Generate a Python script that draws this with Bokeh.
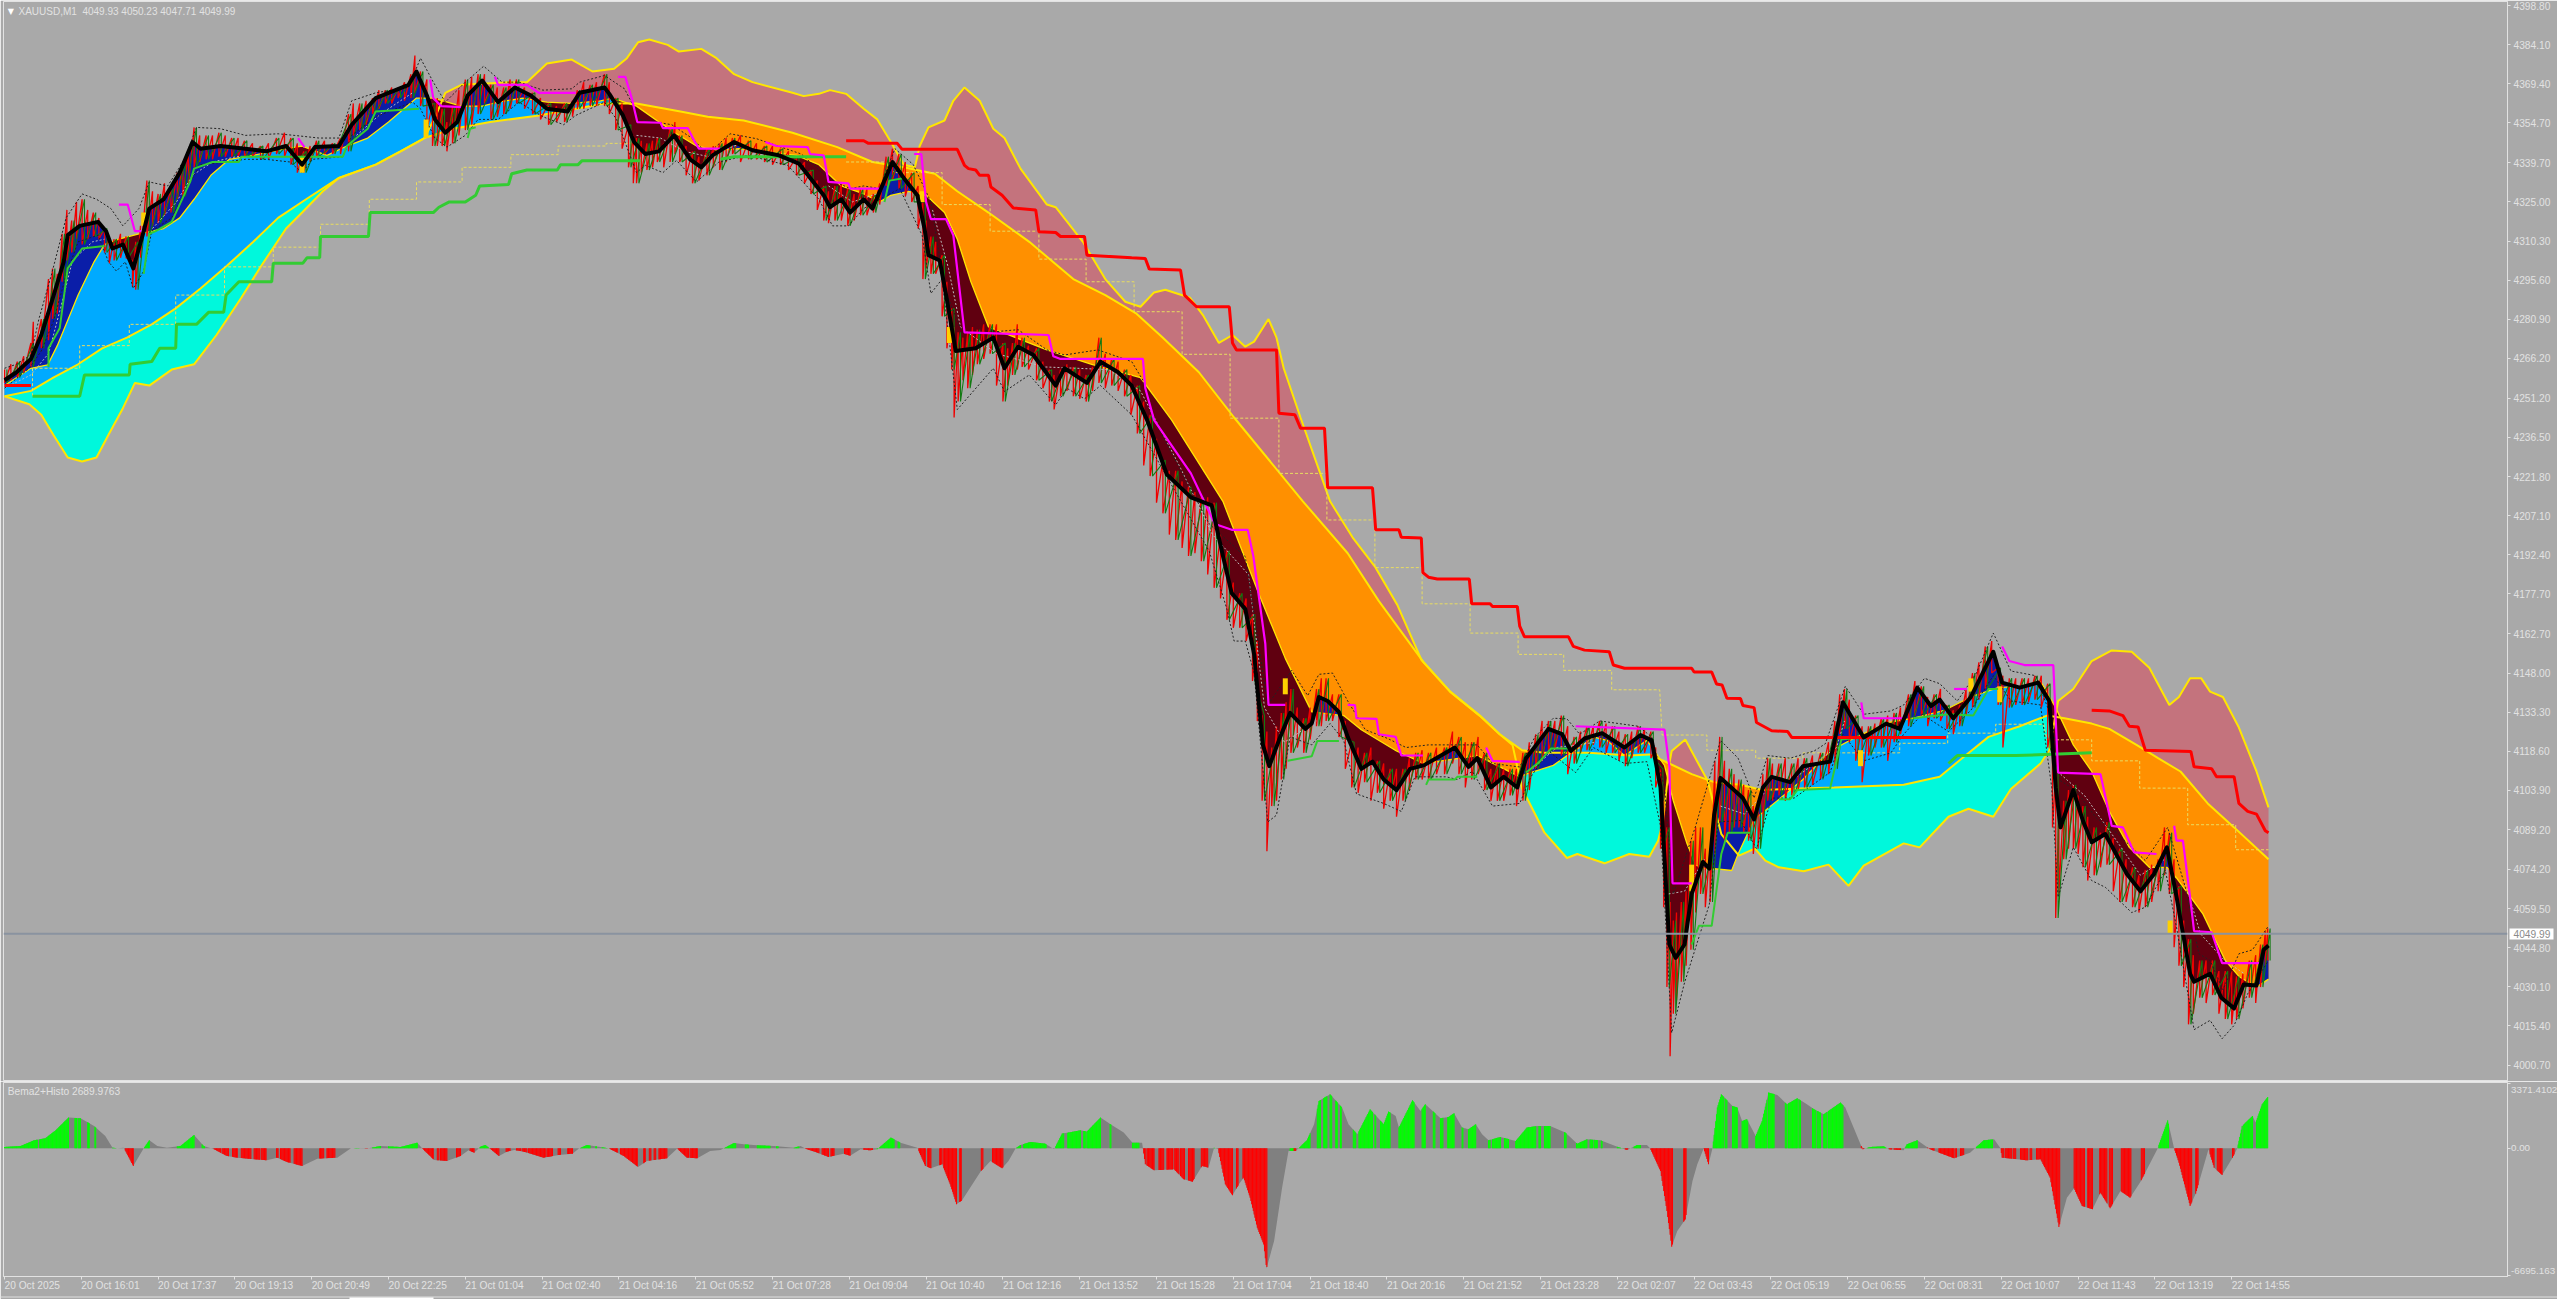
import numpy as np
from bokeh.core.properties import value
from bokeh.embed import file_html
from bokeh.resources import INLINE
from bokeh.layouts import column
from bokeh.models import Range1d, FixedTicker, Label, Span
from bokeh.plotting import figure

TITLE_TEXT = "XAUUSD,M1\u00a0\u00a04049.93 4050.23 4047.71 4049.99"
SUB_TEXT = "Bema2+Histo 2689.9763"
LAST_PRICE = 4049.99
PRICE_LABELS = ["4398.80","4384.10","4369.40","4354.70","4339.70","4325.00","4310.30","4295.60","4280.90","4266.20",
                "4251.20","4236.50","4221.80","4207.10","4192.40","4177.70","4162.70","4148.00","4133.30","4118.60",
                "4103.90","4089.20","4074.20","4059.50","4044.80","4030.10","4015.40","4000.70"]
TIME_LABELS = ["20 Oct 2025","20 Oct 16:01","20 Oct 17:37","20 Oct 19:13","20 Oct 20:49","20 Oct 22:25","21 Oct 01:04",
               "21 Oct 02:40","21 Oct 04:16","21 Oct 05:52","21 Oct 07:28","21 Oct 09:04","21 Oct 10:40","21 Oct 12:16",
               "21 Oct 13:52","21 Oct 15:28","21 Oct 17:04","21 Oct 18:40","21 Oct 20:16","21 Oct 21:52","21 Oct 23:28",
               "22 Oct 02:07","22 Oct 03:43","22 Oct 05:19","22 Oct 06:55","22 Oct 08:31","22 Oct 10:07","22 Oct 11:43",
               "22 Oct 13:19","22 Oct 14:55"]
TIME_TICK_STEP = 96
HIST_TICKS = [3371.41, 0.0, -6695.16]
HIST_TICK_TEXT = ["3371.4102", "0.00", "-6695.163"]

# fast average (thick black)
FAST = [(0,4258),(15,4261),(33,4266),(46,4275),(59,4287.5),(74,4302.5),(79,4312.5),(94,4316),(117,4317.5),(127,4314),
(135,4307.5),(148,4309),(161,4300),(174,4314),(181,4322.5),(199,4326),(219,4336),(235,4347.5),(245,4345),(270,4346),
(301,4345),(327,4344),(352,4346),(372,4339),(388,4345.6),(418,4346),(434,4354),(464,4364),(505,4369),(515,4374),
(528,4365),(538,4356),(551,4351),(566,4355),(579,4365),(597,4370.6),(617,4362.5),(638,4368),(658,4365),(678,4360),
(704,4359),(719,4366),(750,4368),(756,4365.6),(773,4357.5),(787,4347.5),(801,4343),(818,4344),(837,4350),(857,4341),
(871,4338),(885,4342.5),(912,4347.5),(935,4344.4),(968,4342.5),(993,4339.4),(1024,4327.5),(1032,4323),(1046,4326),
(1057,4321),(1074,4326),(1085,4322.5),(1097,4331),(1110,4340),(1124,4334),(1141,4327.5),(1150,4315),(1155,4305),
(1169,4303),(1177,4290),(1189,4269),(1214,4270),(1236,4274),(1250,4262.5),(1267,4270.6),(1286,4267.5),(1314,4256),
(1325,4262.5),(1353,4257),(1370,4265),(1392,4261),(1409,4256),(1429,4242.5),(1453,4222.6),(1483,4214),(1509,4211),
(1523,4192),(1534,4178),(1551,4172),(1562,4155),(1573,4121),(1581,4113),(1593,4122.7),(1607,4133),(1626,4127),
(1634,4129),(1643,4139),(1654,4137.5),(1668,4133.4),(1679,4124),(1696,4112),(1710,4114.7),(1724,4108),(1740,4104),
(1757,4112),(1774,4113.3),(1813,4120),(1830,4112.7),(1841,4116),(1858,4105),(1874,4109),(1891,4105),(1902,4116),
(1930,4127),(1947,4125),(1958,4118.7),(1975,4123.4),(1997,4125.4),(2025,4120),(2045,4124.7),(2059,4122.7),(2070,4105),
(2075,4078.5),(2081,4046),(2089,4041),(2100,4046),(2109,4065),(2123,4077),(2131,4074.5),(2137,4094.6),(2145,4108.6),
(2173,4101),(2187,4093),(2198,4105),(2209,4109),(2232,4107),(2248,4113),(2282,4114.7),(2298,4137),(2324,4123.75),
(2352,4129),(2369,4127),(2391,4142.5),(2408,4135.6),(2419,4138),(2436,4131),(2458,4139),(2486,4156),(2497,4144.4),
(2519,4142.5),(2542,4144.4),(2556,4137.5),(2564,4105),(2570,4090),(2586,4104),(2598,4092.5),(2609,4084.4),(2626,4087.5),
(2653,4072.5),(2670,4066),(2687,4072.5),(2703,4082.5),(2715,4064),(2732,4035),(2737,4032),(2757,4035),(2771,4026),
(2787,4022),(2799,4031),(2815,4030.6),(2824,4044),(2830,4045.6)]

# middle average: edge between the dark fills and the light fills
MID = [(0,4256),(33,4262.5),(54,4263.75),(66,4271),(92,4290),(112,4302.5),(125,4309),(143,4311),(168,4313),(199,4315),
(219,4319),(237,4326),(258,4335),(281,4341),(311,4342.5),(352,4345),(372,4346),(403,4342.5),(428,4346),(454,4349),
(480,4355),(515,4364),(536,4364),(571,4361),(597,4361),(617,4362.5),(648,4364),(678,4362.5),(709,4362),(745,4363),
(760,4364),(790,4361),(818,4355),(840,4350.6),(865,4346),(893,4344.4),(918,4345),(990,4342.5),(1018,4339),(1046,4331),
(1074,4328),(1094,4325),(1108,4327.5),(1130,4329),(1152,4327.5),(1175,4321),(1191,4311),(1208,4295),(1230,4278),
(1264,4274),(1303,4269.4),(1359,4264),(1420,4259),(1459,4243),(1523,4212.5),(1568,4177.7),(1601,4153.5),(1634,4133.4),
(1674,4132),(1696,4126.7),(1740,4118.7),(1774,4114),(1841,4117),(1894,4109),(1902,4110),(1936,4113.3),(1958,4118),
(1969,4120),(1986,4124),(2003,4122.7),(2025,4117),(2053,4122.7),(2075,4113.3),(2086,4100),(2103,4084),(2114,4075.8),
(2126,4074.5),(2137,4074.5),(2159,4073.8),(2167,4080),(2187,4093),(2220,4101),(2248,4108),(2282,4118.7),(2315,4124),
(2354,4129.4),(2385,4131),(2425,4134),(2458,4139),(2492,4142.5),(2519,4143),(2545,4145),(2564,4135),(2586,4121),
(2609,4111),(2631,4096),(2656,4082.5),(2681,4075),(2703,4075),(2715,4071),(2748,4057.5),(2776,4040),(2793,4034),
(2815,4030),(2830,4033)]

# slow average (central yellow curve)
SLOW = [(0,4252),(33,4254),(61,4259),(92,4264),(122,4270),(153,4274),(184,4279),(214,4285),(245,4292.5),(278,4301),
(311,4310),(342,4319),(377,4326),(418,4334),(464,4339),(495,4344),(525,4349),(561,4352.5),(607,4355),(668,4357.5),
(724,4360.6),(750,4362),(790,4362),(845,4359),(879,4357),(924,4355.6),(985,4351),(1041,4345.6),(1085,4340),(1124,4338),
(1163,4335.6),(1191,4329),(1230,4321),(1281,4310),(1336,4296),(1376,4290),(1415,4283),(1448,4274),(1493,4261),(1537,4244),
(1623,4212.5),(1679,4193),(1718,4175),(1774,4152),(1807,4141),(1844,4132),(1869,4125),(1897,4119),(1925,4118),(1980,4118),
(2031,4117),(2056,4117.4),(2081,4114),(2109,4110),(2137,4107),(2170,4106),(2198,4104),(2243,4104.6),(2287,4105),(2374,4106),
(2419,4109),(2447,4116),(2480,4124),(2519,4128),(2553,4132),(2575,4131),(2609,4129),(2631,4127),(2665,4121),(2692,4116),
(2720,4111),(2754,4099),(2787,4090),(2830,4078)]

# outer band: above the slow curve it bounds the rose fill, below it the cyan fill
BAND = [(0,4252),(31,4249),(46,4245),(61,4237.5),(79,4229),(97,4227.5),(115,4229),(130,4237.5),(148,4247.5),(163,4257),
(181,4256),(209,4262),(237,4264),(265,4275),(296,4289),(321,4301),(352,4315),(372,4321),(398,4329),(418,4334),(464,4339),
(495,4344),(525,4349),(540,4358),(551,4366),(571,4369),(632,4370),(653,4370),(678,4377),(709,4378.5),(735,4374),(762,4375),
(778,4379),(792,4385),(806,4386),(829,4384),(843,4381.5),(871,4382.5),(890,4379),(912,4373),(935,4370),(985,4366),
(999,4364.75),(1018,4365.6),(1032,4367),(1052,4365.6),(1074,4360),(1091,4356),(1108,4347.5),(1124,4339),(1138,4338),
(1144,4346),(1155,4353),(1175,4355.6),(1186,4363),(1200,4368),(1219,4363),(1236,4352.5),(1250,4349),(1270,4337.5),(1303,4324),
(1314,4323),(1348,4310),(1376,4296),(1401,4287.5),(1420,4285.6),(1437,4291),(1451,4292),(1482,4289),(1498,4282.5),(1518,4272),
(1535,4275),(1551,4270.6),(1562,4272.5),(1580,4281),(1590,4274),(1599,4262.5),(1620,4244),(1657,4212.5),(1685,4199),(1713,4188),
(1741,4173.6),(1771,4153),(1807,4141),(1844,4132),(1869,4125),(1885,4121),(1897,4104.6),(1925,4088),(1953,4078.5),(1966,4080),
(2000,4076.5),(2031,4080),(2056,4079),(2067,4085),(2073,4092),(2081,4114),(2084,4118.7),(2101,4123),(2129,4107.5),(2146,4087.5),
(2168,4079.4),(2188,4082),(2201,4077.5),(2218,4075),(2249,4073.5),(2280,4076),(2305,4068),(2324,4075.6),(2374,4084),(2394,4082.5),
(2430,4094),(2455,4097),(2486,4094),(2508,4104.4),(2545,4114),(2556,4119),(2567,4137.5),(2586,4142),(2609,4152.5),(2634,4156.5),
(2659,4156),(2681,4150),(2706,4136),(2718,4139),(2732,4146),(2746,4146),(2757,4141),(2773,4139),(2793,4127.5),(2815,4111),(2830,4097.5)]

# falling trailing stop, red thick
RED_STEPS = [
[(0,4256),(33,4256)],
[(1052,4348),(1074,4348),(1080,4347),(1116,4347),(1122,4344.75),(1191,4344.75),(1200,4338.75),(1205,4337.5),(1214,4337),(1219,4335),
(1230,4335),(1233,4330.6),(1247,4327.5),(1261,4322.75),(1289,4322),(1293,4313.75),(1314,4313.5),(1320,4312),(1350,4312),(1353,4305),
(1409,4304),(1426,4303.75),(1431,4299.75),(1470,4299.4),(1475,4290),(1490,4285.6),(1531,4285.6),(1535,4272),(1540,4269.4),(1590,4269.4),
(1593,4245.6),(1613,4245),(1620,4240),(1650,4240),(1654,4217.6),(1710,4217.6),(1714,4201.8),(1743,4201.8),(1746,4199),(1771,4198.7),
(1773,4185.7),(1780,4184),(1791,4183.3),(1831,4183.3),(1834,4174),(1857,4174),(1860,4173),(1891,4173),(1894,4165.6),(1900,4161.6),
(1955,4161.6),(1961,4158),(1975,4156.6),(2006,4156),(2011,4151),(2025,4149.8),(2109,4149.8),(2112,4148.4),(2134,4148.4),(2140,4143.9),
(2147,4143.5),(2153,4138.5),(2170,4138.4),(2173,4135.8),(2187,4135),(2190,4129.4),(2209,4126.3),(2229,4126),(2234,4123.8),(2427,4123.75)],
[(2609,4134),(2631,4133.75),(2648,4132),(2656,4128),(2667,4127.75),(2676,4119),(2733,4118.5),(2737,4112.75),(2759,4112),(2765,4109),
(2787,4109),(2793,4099),(2804,4096),(2815,4095),(2826,4088.75),(2830,4088)]]

# pale yellow dashed staircase
DASH_STEPS = [
[(35,4252),(35,4262.5),(94,4262.5),(94,4271),(156,4271),(156,4279),(214,4279),(214,4290),(275,4290),(275,4300.6),(336,4300.6),
(336,4308),(395,4308),(395,4316.6),(456,4316.6),(456,4326),(515,4326),(515,4332.5),(572,4332.5),(572,4338),(633,4338),(633,4342.75),
(692,4342.75),(692,4346),(752,4346),(752,4347),(784,4347)],
[(1052,4340),(1102,4340),(1112,4336),(1172,4336),(1172,4324),(1232,4324),(1232,4314),(1293,4314),(1293,4303.5),(1352,4303.5),(1352,4295),
(1412,4295),(1412,4283.75),(1472,4283.75),(1472,4267.75),(1532,4267.75),(1532,4243.75),(1593,4243.75),(1593,4223),(1653,4223),(1653,4205.5),
(1713,4205.5),(1713,4187.6),(1772,4187.6),(1772,4174),(1832,4174),(1832,4163),(1892,4163),(1892,4155),(1949,4155),(1949,4149),(2009,4149),
(2009,4141.7),(2069,4141.7),(2072,4124.7),(2128,4124.7),(2128,4119),(2189,4119),(2189,4116),(2248,4116),(2248,4118),(2369,4118),(2369,4121.6),
(2429,4121.6),(2429,4125.4),(2489,4125.4),(2489,4128.75),(2549,4128.75),(2553,4122.9),(2609,4122.9),(2609,4115),(2669,4115),(2669,4104.75),
(2729,4104.75),(2729,4091),(2789,4091),(2789,4081.6),(2830,4081.6)]]

# rising trailing stop, green thick
GREEN_THICK = [
[(35,4252),(94,4252),(100,4260),(156,4260),(157,4264),(184,4265),(194,4270),(214,4270),(215,4279),(240,4279),(255,4283.5),(274,4283.5),
(277,4290),(293,4295),(334,4295),(336,4302),(373,4302),(378,4304),(394,4304),(395,4312),(455,4312),(457,4321),(536,4321),(543,4323),
(556,4325),(576,4325),(589,4327.5),(594,4331),(630,4331.5),(634,4335.6),(653,4337),(691,4337),(695,4339),(717,4339),(722,4340.5),(795,4340.5)],
[(895,4341),(912,4342),(1052,4342)],
[(2430,4114),(2441,4117),(2514,4117),(2609,4118)]]

# rising stop, thin green
GREEN_THIN = [
[(55,4263),(55,4270),(69,4277.5),(79,4300),(97,4307.5),(125,4308.4)],
[(174,4298),(181,4313),(189,4314),(209,4317.5),(232,4332.5),(237,4337.5),(260,4340),(293,4340),(296,4342),(352,4342),(423,4342),(428,4346),
(454,4352.5),(464,4359),(518,4360)],
[(579,4349),(582,4352.5),(589,4353)],
[(1100,4325),(1106,4333),(1125,4334)],
[(1604,4115),(1634,4116.7),(1641,4122.5),(1668,4122.5)],
[(1777,4106),(1780,4108),(1813,4108),(1816,4109),(1841,4109)],
[(1902,4110.6),(1919,4114.7),(1933,4119.6),(1961,4119.6)],
[(2109,4046),(2118,4053),(2134,4053),(2146,4080),(2154,4088),(2182,4088)],
[(2218,4100.6),(2232,4100.6),(2241,4104),(2282,4104.6),(2296,4123),(2324,4124)],
[(2386,4131),(2430,4132.5),(2461,4132),(2480,4142),(2492,4142)]]

# magenta stop
MAGENTA = [
[(143,4324),(154,4324),(163,4314),(171,4314)],
[(367,4349),(375,4345.6)],
[(532,4371),(536,4364),(546,4361),(571,4360.6)],
[(613,4372),(617,4369),(653,4369),(668,4366),(714,4366)],
[(767,4372),(776,4372),(784,4364),(791,4355),(820,4354.75),(823,4352.75),(854,4352.75),(863,4347.5),(868,4345),(895,4345)],
[(951,4347.5),(965,4346),(1004,4345.6),(1007,4343),(1024,4342.5),(1030,4332.5),(1055,4332),(1057,4330),(1094,4330)],
[(1137,4343),(1146,4343),(1152,4325),(1158,4318.5),(1177,4318.5),(1186,4312.5),(1200,4276),(1305,4275),(1311,4267),(1320,4266),(1423,4266),
(1426,4255),(1437,4243),(1483,4223),(1513,4204),(1534,4201.8),(1554,4201.8),(1561,4192),(1576,4159),(1580,4136),(1601,4136)],
[(1679,4136),(1688,4135.9),(1690,4131),(1715,4130.8),(1718,4125),(1739,4124),(1746,4117),(1773,4117)],
[(1852,4120),(1860,4115),(1894,4114.6)],
[(1964,4128),(2075,4126.7),(2081,4113),(2085,4069),(2109,4069)],
[(2321,4137),(2324,4131),(2374,4131)],
[(2437,4142),(2453,4142)],
[(2497,4158),(2506,4152.5),(2525,4151),(2561,4151),(2567,4110.6),(2620,4110),(2634,4090.6),(2648,4090),(2662,4080.6),(2690,4080)],
[(2712,4090.6),(2715,4085),(2723,4085),(2732,4063.75),(2737,4051),(2759,4050.6),(2772,4039),(2821,4039)]]

# dotted envelopes around the price
ENV_UP = [(0,4262.5),(15,4264),(33,4267.5),(43,4281),(59,4298),(77,4319),(97,4328),(115,4326),(133,4322.5),(148,4316),(168,4322.5),(181,4332.5),
(204,4331),(225,4341),(240,4353),(270,4352.5),(301,4350),(342,4350.6),(362,4350),(393,4349),(418,4349),(434,4363),(464,4366),(505,4368),(520,4379),
(536,4370),(551,4362.5),(576,4370),(599,4376),(622,4370),(643,4370),(673,4367),(709,4367.5),(719,4370),(750,4372.5),(775,4367.5),(795,4356),(834,4354),
(859,4349),(879,4343),(907,4350.6),(940,4348.75),(996,4343),(1030,4333.75),(1057,4330),(1074,4331),(1094,4330),(1113,4345),(1136,4339),(1158,4325),
(1175,4292.5),(1197,4276),(1230,4276),(1267,4277),(1303,4269.4),(1325,4267.5),(1367,4269.4),(1409,4265),(1423,4258),(1437,4243),(1506,4204),(1551,4191.7),
(1579,4136),(1609,4149),(1629,4139.5),(1643,4147.5),(1660,4148),(1679,4137.5),(1701,4126.7),(1729,4123.4),(1752,4120),(1780,4121),(1810,4121),(1841,4121),
(1860,4114),(1894,4112.7),(1913,4124),(1936,4131),(1953,4130.8),(1969,4125),(1994,4130),(2042,4128),(2059,4124),(2075,4105),(2086,4065),(2114,4090.6),
(2145,4122.7),(2167,4116),(2187,4101),(2204,4117),(2232,4116),(2262,4118.7),(2276,4121.4),(2301,4143),(2324,4132.5),(2358,4133.75),(2374,4136),(2400,4146),
(2419,4144),(2441,4137.5),(2464,4147.5),(2486,4163),(2508,4148.75),(2539,4147),(2559,4131),(2570,4107.5),(2589,4104),(2614,4093.75),(2642,4087.5),(2676,4077.5),
(2704,4090),(2726,4067.5),(2743,4042.5),(2757,4040),(2773,4029),(2793,4042.5),(2810,4044),(2830,4053)]
ENV_DN = [(0,4255),(31,4262.5),(46,4269),(61,4280),(77,4297.5),(92,4310),(117,4312.5),(130,4302.5),(140,4299),(151,4302.5),(161,4292.5),(174,4299),(184,4314),
(209,4319),(232,4332.5),(245,4339),(276,4340),(301,4341),(327,4341),(357,4340),(372,4336),(385,4341),(423,4342),(434,4350),(464,4357),(510,4362.5),(520,4360),
(538,4349),(553,4345.6),(576,4350),(592,4356),(617,4356),(643,4362.5),(673,4357),(699,4354),(714,4357.5),(750,4362.5),(765,4356),(790,4336),(801,4338.75),(823,4336),
(840,4340.6),(865,4332.5),(893,4340),(929,4342.5),(979,4338.75),(1018,4326),(1035,4316),(1055,4316),(1074,4322.5),(1094,4326),(1119,4330),(1147,4312.5),(1158,4290.6),
(1172,4296),(1191,4247),(1236,4262.5),(1250,4253.75),(1281,4260),(1314,4248.75),(1328,4255),(1350,4251),(1370,4256),(1409,4245),(1506,4193.7),(1528,4172),(1537,4160),
(1551,4160),(1562,4148),(1579,4092),(1590,4094.6),(1607,4124),(1634,4121),(1657,4129),(1674,4122.7),(1690,4102.6),(1724,4099),(1746,4096),(1763,4109),(1802,4109),(1816,4108),
(1835,4111),(1860,4098),(1894,4099),(1908,4109),(1930,4118.7),(1964,4110.6),(1986,4120),(2025,4114),(2053,4114.7),(2070,4090.6),(2084,4012.8),(2100,4031.6),(2131,4061),(2142,4092),
(2170,4092.6),(2190,4082),(2209,4101),(2237,4101),(2282,4110.7),(2298,4125),(2324,4115),(2358,4118),(2374,4125),(2397,4132.5),(2430,4126),(2458,4134),(2486,4147),(2508,4137.5),
(2545,4136),(2559,4105),(2567,4063.75),(2586,4082.5),(2609,4070),(2626,4067.5),(2659,4058),(2676,4060),(2701,4074),(2715,4052.5),(2737,4014),(2757,4017.5),(2772,4010.6),(2787,4015.6),
(2804,4027.5),(2830,4040)]

# light dashed line inside the dark fills
INNER = [
[(0,4255),(33,4260),(55,4268),(70,4285),(85,4303),(110,4310),(125,4311)],
[(185,4315),(215,4325),(235,4335),(260,4340),(290,4342),(330,4342)],
[(440,4350),(470,4358),(510,4366)],
[(790,4350),(820,4349),(850,4344),(880,4342),(920,4347)],
[(1030,4331),(1060,4325),(1090,4328)],
[(1160,4322),(1180,4300),(1195,4278),(1240,4268),(1300,4263),(1380,4262),(1420,4254),(1470,4225),(1510,4200),(1555,4185),(1575,4135),(1600,4122),(1640,4130)],
[(1910,4112),(1940,4120),(1990,4122)],
[(2080,4065),(2100,4066),(2125,4078)],
[(2145,4098),(2175,4095),(2200,4103)],
[(2240,4109),(2290,4120),(2300,4130)],
[(2570,4110),(2600,4102),(2640,4085),(2670,4072),(2700,4078)],
[(2725,4070),(2745,4050),(2775,4040),(2800,4035)]]

# short gold strokes: bar, high, low
GOLD = [(174,4321,4316),(372,4342,4336),(527,4356,4349),(1147,4329,4325),(1181,4278,4272),(1601,4146,4140),(2109,4076,4066),(2320,4119,4113),(2458,4146,4141),(2494,4143,4137),(2707,4055,4050)]

# candle extremes: bar, high, low
WICKS = [(0,4262,4257),(8,4264,4258),(16,4265,4259),(24,4267,4261),(33,4272,4263),(36,4280,4267),(46,4281,4270),(55,4296,4273),(60,4300,4281),(66,4298,4283),(72,4313,4295),
(78,4322,4303),(84,4318,4306),(90,4325,4311),(97,4326,4309),(104,4322,4311),(111,4321,4312),(118,4319,4311),(125,4315,4306),(131,4312,4302),(137,4311,4303),(145,4313,4304),
(152,4312,4304),(160,4303,4293),(164,4310,4292),(170,4316,4304),(178,4333,4312),(185,4329,4316),(192,4328,4317),(200,4332,4320),(208,4330,4321),(216,4336,4326),(223,4340,4327),
(230,4344,4332),(237,4353,4338),(244,4350,4340),(252,4350,4341),(260,4350,4341),(268,4351,4342),(276,4350,4342),(284,4349,4342),(292,4349,4342),(300,4348,4342),(310,4347,4342),
(320,4346,4341),(330,4347,4341),(340,4349,4343),(350,4351,4342),(358,4349,4339),(366,4347,4336),(374,4344,4336),(382,4346,4340),(390,4348,4342),(400,4348,4343),(410,4347,4343),
(420,4349,4343),(430,4358,4344),(436,4362,4350),(444,4362,4352),(452,4363,4354),(460,4364,4358),(468,4367,4360),(476,4367,4362),(484,4368,4362),(492,4368,4364),(500,4370,4363),
(508,4373,4364),(513,4380,4366),(520,4374,4361),(528,4371,4352),(535,4362,4346),(541,4364,4346),(547,4360,4346),(553,4355,4344),(560,4361,4347),(568,4367,4350),(576,4371,4352),
(584,4372,4354),(592,4373,4358),(600,4373,4362),(608,4369,4356),(616,4368,4357),(624,4368,4358),(632,4371,4360),(640,4371,4362),(650,4368,4360),(660,4366,4358),(670,4364,4356),
(680,4362,4354),(690,4361,4355),(700,4362,4355),(710,4363,4357),(716,4367,4360),(724,4370,4360),(732,4369,4361),(740,4370,4361),(750,4373,4361),(756,4370,4358),(764,4364,4352),
(772,4362,4345),(780,4354,4338),(786,4350,4332),(790,4349,4332),(796,4348,4336),(803,4347,4337),(810,4348,4338),(816,4349,4340),(824,4347,4338),(832,4353,4340),(838,4355,4343),
(844,4350,4340),(852,4346,4335),(860,4344,4332),(868,4342,4333),(878,4345,4335),(886,4346,4338),(894,4347,4337),(902,4349,4340),(910,4349,4343),(920,4350,4340),(930,4348,4341),
(940,4347,4341),(950,4346,4340),(960,4346,4339),(970,4345,4339),(980,4344,4337),(990,4342,4335),(1000,4340,4332),(1008,4337,4328),(1016,4333,4322),(1024,4331,4318),(1030,4329,4317),
(1038,4331,4318),(1046,4332,4318),(1054,4330,4316),(1062,4328,4318),(1070,4330,4320),(1078,4330,4320),(1086,4328,4321),(1094,4332,4324),(1102,4342,4331),(1110,4345,4333),(1118,4343,4330),
(1126,4340,4327),(1134,4336,4325),(1142,4331,4315),(1148,4325,4296),(1152,4318,4300),(1158,4312,4298),(1164,4310,4298),(1172,4305,4282),(1178,4295,4270),(1184,4285,4262),(1187,4278,4244),
(1192,4276,4250),(1198,4274,4258),(1204,4276,4255),(1210,4278,4260),(1216,4277,4264),(1224,4279,4266),(1232,4279,4268),(1240,4279,4256),(1248,4272,4250),(1254,4270,4256),(1260,4272,4260),
(1266,4279,4262),(1272,4274,4263),(1280,4271,4262),(1290,4270,4258),(1298,4265,4255),(1306,4262,4250),(1312,4260,4247),(1320,4262,4252),(1328,4264,4254),(1336,4263,4252),(1344,4262,4251),
(1352,4260,4250),(1360,4263,4254),(1368,4274,4257),(1376,4268,4255),(1384,4266,4256),(1392,4265,4254),(1400,4262,4252),(1408,4260,4245),(1416,4256,4238),(1424,4250,4226),(1432,4245,4222),
(1440,4236,4212),(1448,4228,4208),(1456,4224,4200),(1464,4224,4198),(1472,4220,4195),(1480,4218,4192),(1488,4216,4193),(1496,4214,4190),(1504,4214,4185),(1512,4212,4180),(1520,4200,4176),
(1528,4194,4168),(1536,4182,4165),(1544,4178,4165),(1552,4176,4160),(1560,4170,4145),(1566,4160,4130),(1572,4132,4100),(1578,4126,4081),(1584,4120,4098),(1590,4128,4100),(1596,4133,4108),
(1602,4137,4112),(1608,4142,4118),(1616,4135,4120),(1624,4131,4118),(1632,4135,4123),(1640,4142,4128),(1646,4146,4128),(1652,4146,4130),(1660,4140,4130),(1668,4140,4124),(1676,4130,4112),
(1684,4122,4105),(1692,4120,4103),(1700,4118,4107),(1708,4120,4100),(1716,4115,4103),(1724,4114,4097),(1732,4112,4100),(1740,4112,4094),(1748,4112,4100),(1756,4116,4104),(1764,4118,4108),
(1772,4119,4108),(1780,4118,4108),(1790,4120,4110),(1800,4120,4110),(1810,4126,4114),(1818,4124,4110),(1826,4122,4105),(1834,4122,4108),(1842,4124,4110),(1850,4118,4104),(1858,4112,4100),
(1866,4114,4100),(1874,4112,4100),(1882,4112,4102),(1890,4112,4098),(1898,4118,4100),(1906,4122,4104),(1914,4125,4112),(1922,4130,4115),(1930,4130,4118),(1938,4130,4119),(1946,4132,4117),
(1954,4128,4110),(1962,4124,4114),(1970,4126,4118),(1978,4128,4119),(1986,4128,4121),(1994,4130,4120),(2002,4129,4118),(2010,4128,4118),(2018,4126,4115),(2026,4125,4113),(2034,4126,4116),
(2042,4128,4118),(2050,4127,4118),(2058,4126,4116),(2064,4120,4105),(2070,4112,4082),(2074,4100,4060),(2078,4090,4030),(2082,4062,4004),(2086,4055,4020),(2090,4058,4025),(2096,4062,4032),
(2102,4066,4038),(2108,4085,4044),(2114,4090,4058),(2120,4090,4065),(2126,4082,4060),(2132,4082,4062),(2138,4115,4080),(2144,4124,4092),(2150,4115,4085),(2156,4112,4088),(2162,4110,4090),
(2168,4108,4090),(2174,4106,4088),(2180,4104,4085),(2186,4098,4080),(2192,4100,4082),(2198,4110,4090),(2204,4116,4100),(2210,4114,4100),(2218,4114,4102),(2226,4116,4100),(2234,4114,4102),
(2242,4116,4104),(2250,4116,4105),(2260,4117,4106),(2270,4118,4108),(2280,4122,4110),(2288,4130,4112),(2294,4140,4125),(2300,4142,4127),(2306,4138,4122),(2314,4132,4115),(2322,4128,4107),
(2330,4128,4117),(2338,4129,4120),(2346,4131,4120),(2354,4132,4115),(2362,4133,4122),(2370,4135,4125),(2380,4140,4128),(2388,4145,4132),(2396,4143,4132),(2404,4139,4128),(2412,4140,4131),
(2420,4142,4130),(2428,4136,4127),(2436,4134,4125),(2444,4136,4128),(2452,4142,4132),(2460,4148,4135),(2468,4152,4138),(2476,4158,4142),(2484,4160,4148),(2492,4150,4136),(2498,4147,4120),
(2506,4146,4135),(2514,4146,4136),(2522,4146,4136),(2530,4146,4137),(2538,4147,4138),(2546,4147,4135),(2554,4144,4120),(2560,4130,4090),(2564,4110,4056),(2568,4096,4065),(2574,4100,4078),
(2580,4104,4082),(2586,4106,4082),(2592,4102,4080),(2598,4098,4075),(2604,4094,4070),(2612,4090,4072),(2620,4088,4075),(2628,4092,4076),(2636,4086,4066),(2644,4082,4062),(2652,4078,4062),
(2660,4075,4060),(2668,4072,4058),(2676,4074,4060),(2684,4076,4062),(2692,4078,4066),(2700,4090,4072),(2706,4088,4065),(2712,4078,4045),(2718,4068,4038),(2724,4055,4030),(2730,4048,4016),
(2736,4042,4020),(2744,4040,4026),(2752,4040,4024),(2760,4040,4027),(2768,4036,4020),(2776,4036,4018),(2784,4036,4016),(2790,4034,4018),(2798,4035,4022),(2806,4040,4026),(2814,4042,4024),
(2820,4046,4030),(2826,4051,4038),(2829,4052,4040)]

# histogram envelope in the lower pane
HIST = [(0,70),(20,122),(37,420),(51,525),(64,945),(80,1610),(95,1575),(112,1172),(126,647),(135,35),(141,0),(149,35),(161,-927),(174,0),(181,420),(191,122),(203,35),(220,122),(237,700),
(249,122),(262,-52),(278,-402),(291,-490),(312,-577),(328,-630),(341,-490),(353,-717),(372,-927),(391,-542),(416,-490),(433,0),(453,-17),(470,122),(495,70),(516,297),(522,0),(537,-612),
(553,-665),(570,-402),(580,-105),(587,-227),(595,87),(601,175),(607.5,-35),(618,-402),(628,-175),(637,-87),(649,-175),(674,-490),(693,-350),(710,-280),(718,-17),(728,175),(745,70),(755,0),
(774,-402),(792,-980),(803,-665),(828,-525),(841,-17),(853,-490),(866,-525),(882,-140),(895,-87),(912,280),(924,210),(941,157),(962,122),(987,35),(995,122),(1001,-17),(1016,-227),(1030,-455),
(1049,-280),(1057,-385),(1070,-52),(1082,-105),(1091,-52),(1108,560),(1120,297),(1141,35),(1151,-927),(1158,-1050),(1172,-840),(1182,-1890),(1190,-2940),(1197,-2730),(1220,-1225),(1232.5,-665),
(1247,-1050),(1255,-665),(1264,0),(1270,175),(1282.5,332),(1301,245),(1312,-52),(1322,770),(1330,822),(1345,945),(1353,875),(1370,1610),(1382.5,1260),(1399,822),(1410,297),(1422,297),(1426,-840),
(1437,-1155),(1462,-1102),(1474,-1627),(1485,-1750),(1497,-927),(1505,-1015),(1512,35),(1517,-52),(1526,-1890),(1535,-2467),(1543,-1890),(1549,-1540),(1557,-2590),(1566,-4165),(1574,-5040),
(1577.5,-6300),(1587,-4865),(1597,-2065),(1605,-140),(1614,-140),(1628,420),(1637,1260),(1643,2485),(1657,2835),(1672,2135),(1680,1260),(1691,735),(1707,2047),(1724,1260),(1730,1925),(1739,1697),
(1743,1085),(1760,2520),(1770,1960),(1776,2310),(1795,1575),(1805,1645),(1812,1837),(1822,1085),(1830,997),(1839,1260),(1847,735),(1855,420),(1870,595),(1889,385),(1903,1085),(1916,1172),(1932,1172),
(1951,822),(1966,245),(1978,472),(1995,420),(2016,87),(2028,-87),(2041,175),(2053,175),(2057,0),(2070,-1190),(2078,-3290),(2084,-5162),(2091,-4340),(2101,-3727),(2110,-1715),(2116,-840),(2124,-17),
(2130,-840),(2135,0),(2141,2135),(2146,2835),(2160,2222),(2166,2135),(2172,1435),(2178,1522),(2189,647),(2197,1435),(2205,2922),(2216,2800),(2228,2310),(2241,2625),(2253,2310),(2262,2047),(2274,1785),
(2295,2397),(2301,2135),(2320,210),(2323,-52),(2332,70),(2349,105),(2355,-52),(2374,-105),(2378,210),(2391,420),(2407,-52),(2437,-525),(2457,-227),(2474,420),(2487,472),(2495,0),(2497,-490),(2528,-630),
(2545,-577),(2557,-1540),(2568,-4130),(2578,-2590),(2587,-2100),(2597,-3027),(2610,-3202),(2620,-2327),(2632,-3150),(2645,-2240),(2657,-2590),(2670,-1750),(2691,-52),(2704,1470),(2712,0),(2718,-752),
(2732,-3027),(2739,-2380),(2755,-52),(2762,-1015),(2772,-1400),(2785,-490),(2791,0),(2797,1172),(2810,1697),(2814,1347),(2822,2310),(2829,2695)]

HIST_GREEN = [(0,41),(44,80),(88,90),(92,95),(104,106),(113,114),(135,139),(175,181),(216,237),(247,250),(435,443),(460,470),(480,516),(594,605),(720,732),(739,740),(747,753),(899,914),(926,930),
(941,957),(965,967),(987,993),(1091,1112),(1117,1119),(1265,1270),(1274,1302),(1314,1324),(1329,1345),(1349,1351),(1353,1370),(1382,1383),(1410,1418),(1512,1514),(1607,1612),(1618,1632),(1641,1645),
(1649,1653),(1657,1659),(1664,1666),(1670,1671),(1686,1689),(1693,1710),(1713,1714),(1720,1724),(1725,1732),(1743,1762),(1772,1776),(1786,1788),(1795,1798),(1804,1812),(1822,1823),(1830,1839),(1855,1857),
(1860,1870),(1875,1880),(1889,1903),(1904,1914),(1918,1920),(1925,1932),(1950,1952),(1965,1978),(1982,1985),(1987,1991),(1996,1997),(2016,2023),(2037,2045),(2135,2149),(2151,2153),(2160,2166),(2172,2179),
(2189,2203),(2205,2212),(2226,2228),(2230,2241),(2243,2245),(2260,2264),(2266,2270),(2274,2278),(2280,2298),(2328,2332),(2332,2353),(2376,2391),(2465,2485),(2693,2705),(2792,2797),(2799,2810),(2815,2829)]
HIST_RED = [(142,143),(151,161),(262,270),(272,280),(285,291),(296,308),(312,319),(321,327),(340,342),(345,357),(362,372),(394,399),(403,413),(451,455),(523,536),(541,543),(545,553),(565,570),(582,587),
(607,618),(627,632),(640,645),(647,653),(655,676),(678,685),(692,695),(704,710),(757,766),(770,791),(799,801),(806,808),(812,814),(818,828),(842,855),(857,866),(1001,1018),(1022,1030),(1033,1037),(1050,1057),
(1074,1085),(1143,1151),(1154,1158),(1169,1172),(1174,1190),(1194,1196),(1221,1223),(1235,1240),(1240,1248),(1423,1426),(1428,1437),(1443,1449),(1453,1460),(1462,1468),(1470,1475),(1480,1487),(1496,1504),
(1518,1535),(1540,1542),(1548,1578),(1612,1614),(2026,2029),(2057,2085),(2099,2102),(2124,2130),(2321,2324),(2356,2359),(2362,2370),(2404,2412),(2418,2437),(2439,2440),(2445,2449),(2495,2499),(2501,2504),
(2505,2509),(2511,2514),(2520,2529),(2532,2534),(2540,2569),(2587,2600),(2604,2610),(2619,2628),(2631,2635),(2646,2650),(2651,2658),(2671,2675),(2712,2719),(2720,2734),(2739,2742),(2757,2762),(2766,2772),(2785,2787)]

BG = "#a9a9a9"
AXIS = "#e2e2e2"
TXT = "#e2e2e2"
FONT = "Liberation Sans"
FS = "10.2px"
ABS = {"position": "absolute", "left": "0px", "top": "0px"}

def xy(pairs):
    a = np.array(sorted(pairs), dtype=float)
    return a[:, 0], a[:, 1]

grid = np.arange(0, 2831, 1.0)
f = {name: np.interp(grid, *xy(series)) for name, series in
     {"fast": FAST, "mid": MID, "slow": SLOW, "band": BAND}.items()}

X_RANGE = Range1d(-1.25, 3128.75)
p1 = figure(width=2557, height=1081, x_range=X_RANGE, y_range=Range1d(3994.9, 4400.3), toolbar_location=None,
            output_backend="svg", y_axis_location="right", x_axis_location=None,
            min_border_left=3, min_border_right=50, min_border_top=1, min_border_bottom=1,
            background_fill_color=BG, border_fill_color=BG, outline_line_color=AXIS)
p1.grid.visible = False

def fill(lo, hi, cond, color):
    p1.varea(grid, y1=lo, y2=np.where(cond, hi, lo), fill_color=color)

fill(f["slow"], f["band"], f["band"] > f["slow"], "#c4737d")
fill(f["slow"], f["band"], f["band"] < f["slow"], "#00f8dc")
fill(f["slow"], f["mid"], f["mid"] > f["slow"], "#00aaff")
fill(f["slow"], f["mid"], f["mid"] < f["slow"], "#ff9000")
fill(f["mid"], f["fast"], f["fast"] > f["mid"], "#0a1ea8")
fill(f["mid"], f["fast"], f["fast"] < f["mid"], "#600010")

def multi(segs, color, width, dash="solid"):
    xs = [[q[0] for q in s] for s in segs]
    ys = [[q[1] for q in s] for s in segs]
    p1.multi_line(xs, ys, line_color=color, line_width=width, line_dash=dash)

def zigzag(rows, offset, color, width):
    xs, ys = [], []
    for b, hi, lo in rows:
        xs += [b + offset, b + offset]
        ys += [hi, lo]
    p1.line(xs, ys, line_color=color, line_width=width)

p1.line(*xy(BAND), line_color="#ffe600", line_width=2)
p1.line(*xy(SLOW), line_color="#ffe600", line_width=2)
p1.line(*xy(MID), line_color="#ffe600", line_width=1.3)
multi(DASH_STEPS, "#e8dc60", 1, "3 2")
zigzag(WICKS, 0, "#f00000", 1.3)
zigzag(WICKS[::2], 3, "#127a12", 1.1)
multi(INNER, "#bdbdbd", 1, "2 2")
p1.line(*xy(ENV_UP), line_color="#222222", line_width=1, line_dash="2 2")
p1.line(*xy(ENV_DN), line_color="#222222", line_width=1, line_dash="2 2")
g = np.array(GOLD, dtype=float)
p1.segment(g[:, 0], g[:, 2], g[:, 0], g[:, 1], line_color="#ffd000", line_width=5)
multi(GREEN_THIN, "#33cc33", 2)
multi(GREEN_THICK, "#33cc33", 3)
multi(MAGENTA, "#ff00ff", 2.2)
multi(RED_STEPS, "#ff0000", 3)
p1.line(*xy(FAST), line_color="#000000", line_width=4, line_join="round")

p1.add_layout(Span(location=LAST_PRICE, dimension="width", line_color="#8a93a0", line_width=2))

ax = p1.yaxis[0]
tick_vals = [float(t) for t in PRICE_LABELS]
ax.ticker = FixedTicker(ticks=tick_vals)
ax.major_label_overrides = {float(t): t for t in PRICE_LABELS}
ax.axis_line_color = AXIS
ax.major_tick_line_color = AXIS
ax.major_tick_out = 3
ax.major_tick_in = 0
ax.minor_tick_line_color = None
ax.major_label_standoff = 3
ax.major_label_text_color = TXT
ax.major_label_text_font = FONT
ax.major_label_text_font_size = FS
ax.major_label_text_font_style = "normal"

p1.add_layout(Label(x=17.5, y=4396.7, text=TITLE_TEXT, text_color=TXT, text_font=FONT, text_font_size="10px", text_baseline="middle"))
p1.add_layout(Label(x=4, y=4396.7, text="\u25bc", text_color="#ffffff", text_font="DejaVu Sans", text_font_size="8px", text_baseline="middle"))

p2 = figure(width=2557, height=218, x_range=X_RANGE, y_range=Range1d(-6722, 3450), toolbar_location=None,
            output_backend="svg", y_axis_location="right",
            min_border_left=3, min_border_right=50, min_border_top=1, min_border_bottom=23,
            background_fill_color=BG, border_fill_color=BG, outline_line_color=AXIS)
p2.grid.visible = False

hb, hv = xy(HIST)
p2.varea(hb, y1=np.zeros_like(hv), y2=hv, fill_color="#808080")
hg = np.arange(0, 2830)
hgv = np.interp(hg, hb, hv)
for spans, color in ((HIST_GREEN, "#00ff00"), (HIST_RED, "#ff0000")):
    mask = np.zeros_like(hg, dtype=bool)
    for a, b in spans:
        mask |= (hg >= a) & (hg <= b)
    p2.vbar(x=hg[mask], top=hgv[mask], bottom=0, width=1.3, fill_color=color, line_color=None)

ya = p2.yaxis[0]
ya.ticker = FixedTicker(ticks=HIST_TICKS)
ya.major_label_overrides = {t: "" for t in HIST_TICKS}
ya.axis_line_color = AXIS
ya.major_tick_line_color = AXIS
ya.major_tick_out = 3
ya.major_tick_in = 0
ya.minor_tick_line_color = None

xa = p2.xaxis[0]
xa.ticker = FixedTicker(ticks=[i * TIME_TICK_STEP for i in range(len(TIME_LABELS))])
xa.major_label_overrides = {i * TIME_TICK_STEP: "" for i in range(len(TIME_LABELS))}
xa.axis_line_color = AXIS
xa.major_tick_line_color = AXIS
xa.major_tick_out = 3
xa.major_tick_in = 0
xa.minor_tick_line_color = None

p2.add_layout(Label(x=4, y=3000, text=SUB_TEXT, text_color=TXT, text_font=FONT, text_font_size=FS, text_baseline="middle"))

# transparent full-page layer, one unit per pixel, for the texts and tabs outside the two frames
top = figure(width=2557, height=1299, x_range=Range1d(0, 2557), y_range=Range1d(1299, 0), toolbar_location=None,
             output_backend="svg", x_axis_location=None, y_axis_location=None, min_border=0,
             background_fill_color=None, border_fill_color=None, outline_line_color=None, styles=ABS)
top.grid.visible = False

def page_x(bar):
    return 4 + 0.8 * bar

top.quad(left=[0], right=[2557], top=[1296], bottom=[1297], fill_color="#e0e0e0", line_color=None)
top.quad(left=[349], right=[433], top=[1297], bottom=[1299], fill_color="#ffffff", line_color=None)
top.quad(left=[2509], right=[2553], top=[928], bottom=[939], fill_color="#ffffff", line_color=None)
top.text([2513], [933.7], text=["%.2f" % LAST_PRICE], text_color="#8a8a8a", text_font=value(FONT),
         text_font_size=value(FS), text_baseline="middle")
top.text([page_x(i * TIME_TICK_STEP) for i in range(len(TIME_LABELS))], [1285] * len(TIME_LABELS), text=TIME_LABELS,
         text_color=TXT, text_font=value(FONT), text_font_size=value(FS), text_baseline="middle")
top.text([2510.5] * 3, [1089, 1147.7, 1270], text=HIST_TICK_TEXT, text_color=TXT, text_font=value(FONT),
         text_font_size=value("9.8px"), text_baseline="middle")

page = column(p1, p2, spacing=0, styles=ABS)
open("out.html", "w").write(file_html([page, top], INLINE))
